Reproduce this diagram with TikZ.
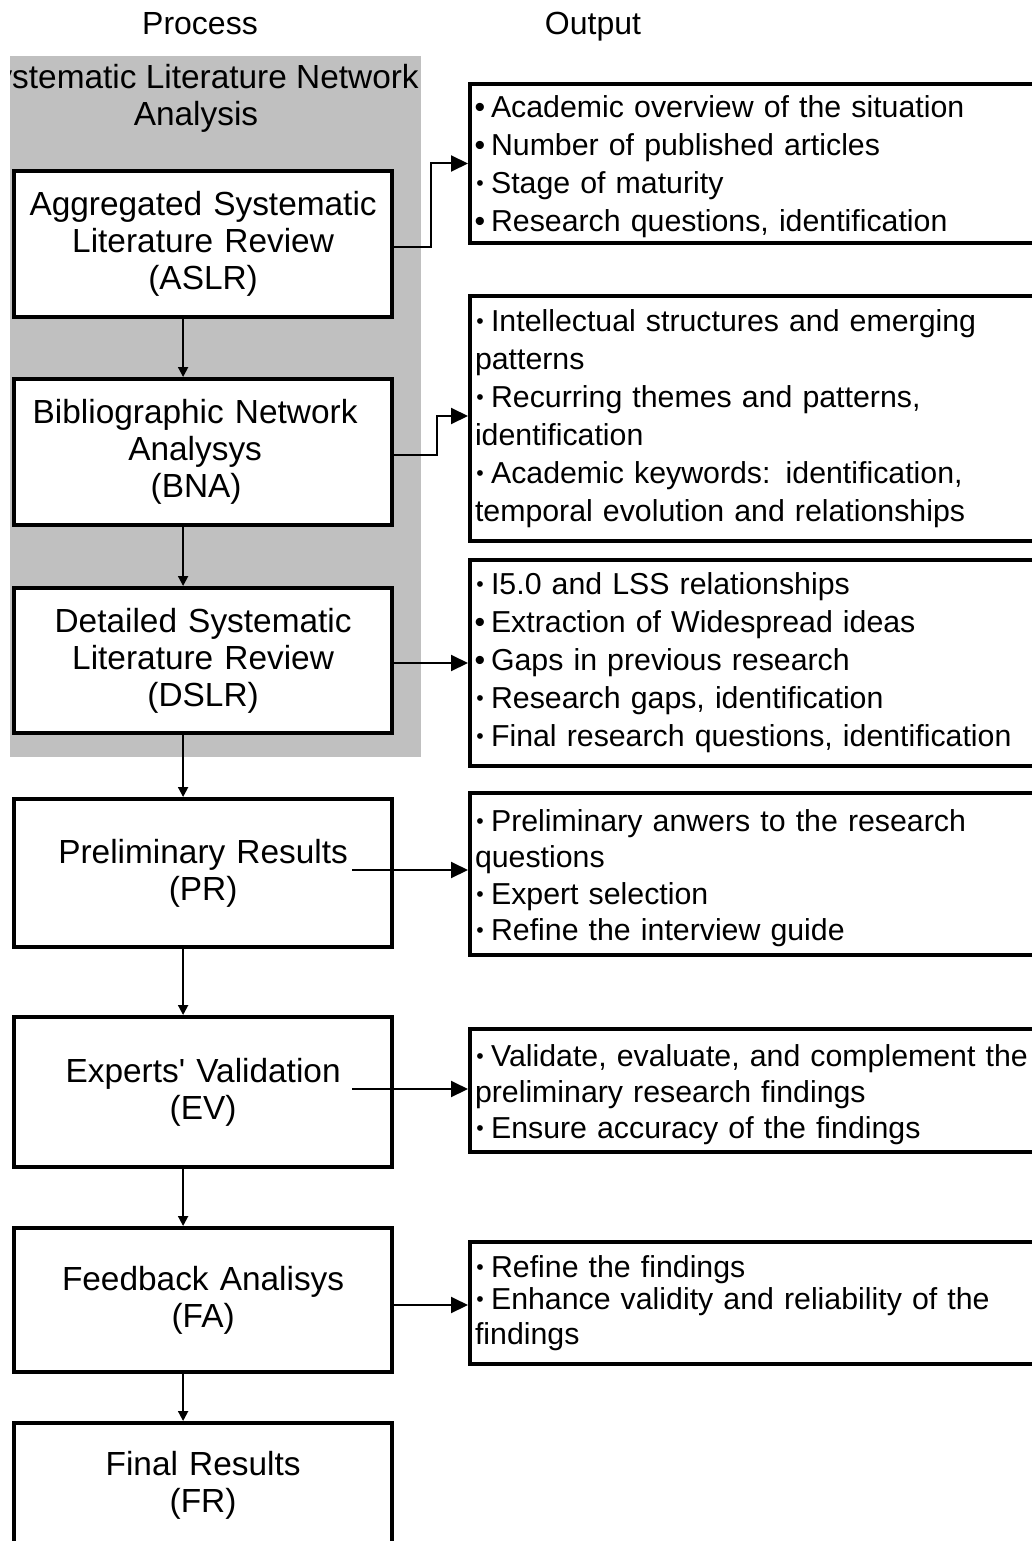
\documentclass[tikz,border=0pt]{standalone}
\usepackage{fontspec}
\setmainfont{Liberation Sans}
\usepackage{graphicx}
\usetikzlibrary{arrows.meta}
\definecolor{panel}{RGB}{192,192,192}
% bullets: full-size and reduced, each followed by its gap
\newcommand\bigbul{\makebox[0.33em][c]{\textbullet}\hspace{0.2em}}
\newcommand\smallbul{\makebox[0.33em][c]{\raisebox{0.1em}{\scalebox{0.7}{\textbullet}}}\hspace{0.2em}}
% invisible strut that deepens the first line of a box
\newcommand\firstline[1]{\rule{0pt}{#1}}
\begin{document}
\begin{tikzpicture}[x=1pt,y=-1pt,
  procbox/.style={draw, line width=4.2pt, fill=white, minimum width=378pt,
    text width=370pt, align=center, inner sep=0pt, anchor=north west,
    font=\fontsize{33.4}{37}\selectfont},
  outbox/.style={draw, line width=4pt, fill=white, text width=590pt,
    align=left, inner xsep=5pt, inner ysep=0pt, anchor=north west,
    font=\fontsize{30.3}{38}\selectfont},
  flow/.style={line width=2pt, -{Triangle[length=10pt,width=10pt]}},
  feed/.style={line width=2pt, -{Triangle[length=17pt,width=16pt]}},
  header/.style={font=\fontsize{32}{36}\selectfont, anchor=base}
]
\useasboundingbox (0,0) rectangle (1032,1541);

% column headers
\node[header] (hproc) at (200,35) {Process};
\node[header] (hout) at (593,35) {Output};

% grey panel grouping the literature stages
\fill[panel] (10,56) rectangle (421,757);
\begin{scope}
  \clip (10,56) rectangle (421,757);
  \node[font=\fontsize{33.4}{37}\selectfont, align=center] (slna) at (196,98.5)
    {Systematic Literature Network\\Analysis};
\end{scope}

% process column
\node[procbox, minimum height=146pt] (aslr) at (12,169)
  {Aggregated Systematic\\Literature Review\\(ASLR)};
\node[procbox, minimum height=146pt] (bna) at (12,377)
  {\hspace*{-16pt}Bibliographic Network\\\hspace*{-16pt}Analysys\\\hspace*{-14pt}(BNA)};
\node[procbox, minimum height=145pt] (dslr) at (12,586)
  {Detailed Systematic\\Literature Review\\(DSLR)};
\node[procbox, minimum height=148pt] (pr) at (12,797)
  {Preliminary Results\\(PR)};
\node[procbox, minimum height=150pt] (ev) at (12,1015)
  {Experts\textquotesingle{} Validation\\(EV)};
\node[procbox, minimum height=144pt] (fa) at (12,1226)
  {Feedback Analisys\\(FA)};
\node[procbox, minimum height=125pt] (fr) at (12,1421)
  {Final Results\\(FR)};

% output column
\node[outbox, minimum height=159pt] (o1) at (468,82)
  {\firstline{28pt}\bigbul Academic overview of the situation\\
   \bigbul Number of published articles\\
   \smallbul Stage of maturity\\
   \bigbul Research questions, identification};
\node[outbox, minimum height=245pt] (o2) at (468,294)
  {\smallbul Intellectual structures and emerging\\
   patterns\\
   \smallbul Recurring themes and patterns,\\
   identification\\
   \smallbul Academic keywords: identification,\\
   temporal evolution and relationships};
\node[outbox, minimum height=206pt] (o3) at (468,558)
  {\smallbul I5.0 and LSS relationships\\
   \bigbul Extraction of Widespread ideas\\
   \bigbul Gaps in previous research\\
   \smallbul Research gaps, identification\\
   \smallbul Final research questions, identification};
\node[outbox, minimum height=162pt, font=\fontsize{30.3}{36.5}\selectfont] (o4) at (468,791)
  {\firstline{30pt}\smallbul Preliminary anwers to the research\\
   questions\\
   \smallbul Expert selection\\
   \smallbul Refine the interview guide};
\node[outbox, minimum height=123pt, font=\fontsize{30.3}{36}\selectfont] (o5) at (468,1027)
  {\firstline{30pt}\smallbul Validate, evaluate, and complement the\\
   preliminary research findings\\
   \smallbul Ensure accuracy of the findings};
\node[outbox, minimum height=122pt, font=\fontsize{30.3}{35}\selectfont] (o6) at (468,1240)
  {\smallbul Refine the findings\\[-3pt]
   \smallbul Enhance validity and reliability of the\\
   findings};

% sequence of stages
\foreach \a/\b in {aslr/bna, bna/dslr, dslr/pr, pr/ev, ev/fa, fa/fr}
  \draw[flow] ([xshift=-20pt]\a.south) -- ([xshift=-20pt]\b.north);

% links from each stage to its outputs
\coordinate (pr-src) at (352,870);
\coordinate (ev-src) at (352,1089);
\draw[feed] ([yshift=-3pt]aslr.east) -- ++(37,0) |- (o1.west);
\draw[feed] ([yshift=-3pt]bna.east) -- ++(43,0) |- ([yshift=2.5pt]o2.west);
\draw[feed] (dslr.east |- o3.west) -- (o3.west);
\draw[feed] (pr-src) -- (o4.west |- pr-src);
\draw[feed] (ev-src) -- (o5.west |- ev-src);
\draw[feed] ([yshift=-2pt]fa.east |- o6.west) -- ([yshift=-2pt]o6.west);
\end{tikzpicture}
\end{document}
